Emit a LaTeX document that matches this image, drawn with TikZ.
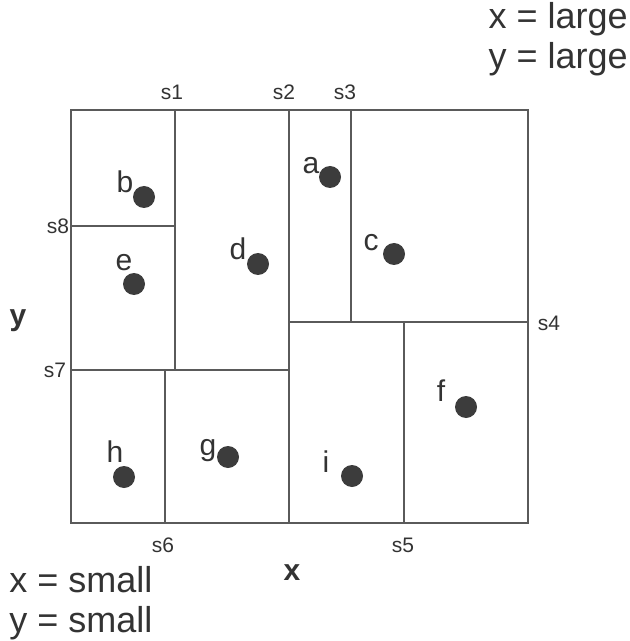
\documentclass[tikz,border=0pt]{standalone}
\usepackage{fontspec}
\setmainfont{Liberation Sans}
\usetikzlibrary{positioning}
\definecolor{linegray}{HTML}{5A5A5A}
\definecolor{dotgray}{HTML}{3C3C3C}
\definecolor{txtgray}{HTML}{333333}
\begin{document}
\begin{tikzpicture}[x=0.5pt,y=-0.5pt,
  cut/.style={line width=1pt,draw=linegray},
  pt/.style={circle,fill=dotgray,inner sep=0pt,minimum size=11pt},
  ptlabel/.style={text=txtgray,inner sep=0pt,font=\fontsize{15}{15}\selectfont},
  slabel/.style={text=txtgray,inner sep=0pt,font=\fontsize{10.5}{10.5}\selectfont},
  axlabel/.style={text=txtgray,inner sep=0pt,font=\bfseries\fontsize{15}{15}\selectfont},
  cornertext/.style={text=txtgray,inner sep=0pt,align=left,font=\fontsize{18}{20}\selectfont}]
\useasboundingbox (0,0) rectangle (630,641);
% coordinates
\coordinate (tl) at ( 71,110);
\coordinate (tr) at (528,110);
\coordinate (bl) at ( 71,523);
\coordinate (br) at (528,523);
\coordinate (s1t) at (175,110);
\coordinate (s1b) at (175,370);
\coordinate (s2t) at (289,110);
\coordinate (s2b) at (289,523);
\coordinate (s3t) at (351,110);
\coordinate (s3b) at (351,322);
\coordinate (s4l) at (289,322);
\coordinate (s4r) at (528,322);
\coordinate (s5t) at (404,322);
\coordinate (s5b) at (404,523);
\coordinate (s6t) at (165,370);
\coordinate (s6b) at (165,523);
\coordinate (s7l) at ( 71,370);
\coordinate (s7r) at (289,370);
\coordinate (s8l) at ( 71,226);
\coordinate (s8r) at (175,226);
% cuts
\draw[cut] (tl) rectangle (br);
\draw[cut] (s1t) -- (s1b);
\draw[cut] (s2t) -- (s2b);
\draw[cut] (s3t) -- (s3b);
\draw[cut] (s4l) -- (s4r);
\draw[cut] (s5t) -- (s5b);
\draw[cut] (s6t) -- (s6b);
\draw[cut] (s7l) -- (s7r);
\draw[cut] (s8l) -- (s8r);
% cut labels
\node[slabel] (ls1) at (172, 92) {s1};
\node[slabel] (ls2) at (284, 92) {s2};
\node[slabel] (ls3) at (345, 92) {s3};
\node[slabel] (ls4) at (549,323) {s4};
\node[slabel] (ls5) at (403,545) {s5};
\node[slabel] (ls6) at (163,545) {s6};
\node[slabel] (ls7) at ( 55,370) {s7};
\node[slabel] (ls8) at ( 58,226) {s8};
% points
\node[pt] (a) at (330,177) {};
\node[pt] (b) at (144,197) {};
\node[pt] (c) at (394,254) {};
\node[pt] (d) at (258,264) {};
\node[pt] (e) at (134,284) {};
\node[pt] (f) at (466,407) {};
\node[pt] (g) at (228,457) {};
\node[pt] (h) at (124,477) {};
\node[pt] (i) at (352,476) {};
\node[ptlabel] (la) at (311,166) {a};
\node[ptlabel] (lb) at (125,182) {b};
\node[ptlabel] (lc) at (371,243) {c};
\node[ptlabel] (ld) at (238,249) {d};
\node[ptlabel] (le) at (124,263) {e};
\node[ptlabel] (lf) at (441,391) {f};
\node[ptlabel] (lg) at (208,451) {g};
\node[ptlabel] (lh) at (115,452) {h};
\node[ptlabel] (li) at (326,462) {i};
% axes
\node[axlabel] (xax) at (292,573) {x};
\node[axlabel] (yax) at ( 18,321) {y};
\node[cornertext,anchor=east] (large) at (628,39) {x = large\\y = large};
\node[cornertext,anchor=west] (small) at (9,603) {x = small\\y = small};
\end{tikzpicture}
\end{document}
